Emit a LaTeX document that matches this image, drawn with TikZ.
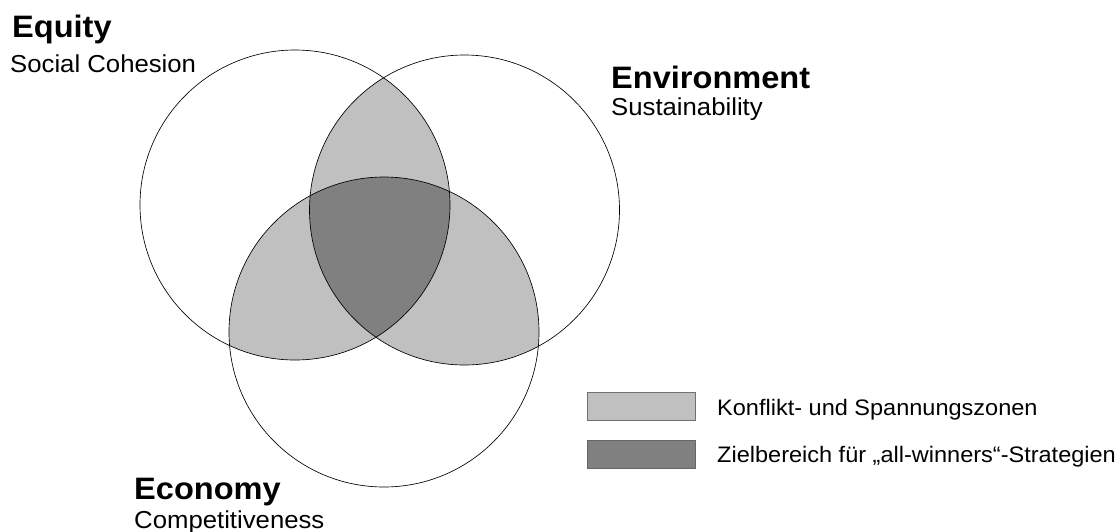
\documentclass[tikz,border=0pt]{standalone}
\usepackage{fontspec}
\setmainfont{Liberation Sans}[FakeStretch=1.05]
\definecolor{lightzone}{HTML}{C0C0C0}
\definecolor{darkzone}{HTML}{808080}
\definecolor{boxedge}{HTML}{707070}
\begin{document}
\begin{tikzpicture}[x=1pt,y=-1pt,
  circ/.style={draw=black,line width=0.65pt},
  title/.style={anchor=base west,inner sep=0pt,font=\fontsize{31}{35}\selectfont\bfseries},
  subtitle/.style={anchor=base west,inner sep=0pt,font=\fontsize{24.5}{28}\selectfont},
  legtext/.style={anchor=base west,inner sep=0pt,font=\fontsize{22.4}{26}\selectfont},
  legbox/.style={draw=boxedge,line width=0.8pt,minimum width=108pt,minimum height=28pt,inner sep=0pt,anchor=north west}]
\useasboundingbox (0,0) rectangle (1120,531);
\coordinate (cA) at (295,205);
\coordinate (cB) at (464.5,210);
\coordinate (cC) at (384,332);
\def\rr{155}
% pairwise intersections
\begin{scope}
  \clip (cA) circle[radius=\rr];
  \fill[lightzone] (cB) circle[radius=\rr];
  \fill[lightzone] (cC) circle[radius=\rr];
\end{scope}
\begin{scope}
  \clip (cB) circle[radius=\rr];
  \fill[lightzone] (cC) circle[radius=\rr];
\end{scope}
% triple intersection
\begin{scope}
  \clip (cA) circle[radius=\rr];
  \clip (cB) circle[radius=\rr];
  \fill[darkzone] (cC) circle[radius=\rr];
\end{scope}
\draw[circ] (cA) circle[radius=\rr];
\draw[circ] (cB) circle[radius=\rr];
\draw[circ] (cC) circle[radius=\rr];
% labels
\node[title] (eqt) at (12,37) {Equity};
\node[subtitle] (eqs) at (10,72) {Social Cohesion};
\node[title] (ent) at (611,88) {Environment};
\node[subtitle] (ens) at (611,115) {Sustainability};
\node[title] (ect) at (134,499) {Economy};
\node[subtitle] (ecs) at (134,528) {Competitiveness};
% legend
\node[legbox,fill=lightzone] (lb1) at (587,392) {};
\node[legbox,fill=darkzone,draw=darkzone!80!black] (lb2) at (587,440) {};
\node[legtext] (lt1) at (717,415) {Konflikt- und Spannungszonen};
\node[legtext] (lt2) at (717,462) {Zielbereich für „all-winners“-Strategien};
\end{tikzpicture}
\end{document}
